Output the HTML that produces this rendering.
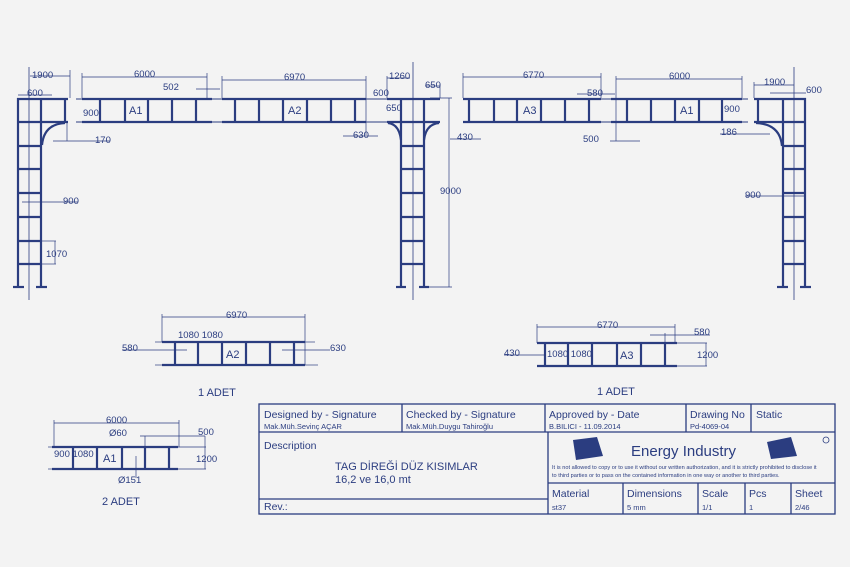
<!DOCTYPE html>
<html><head><meta charset="utf-8"><style>
html,body{margin:0;padding:0;background:#f3f3f3}
svg{display:block}
text{font-family:"Liberation Sans",sans-serif;fill:#2b3d80}
.m{font-family:"DejaVu Sans Mono","Liberation Mono",monospace}
</style></head><body>
<svg width="850" height="567" viewBox="0 0 850 567" xmlns="http://www.w3.org/2000/svg">
<rect width="850" height="567" fill="#f3f3f3"/>
<g stroke="#2b3d80" fill="none">
<!-- LEFT TOWER -->
<g stroke-width="2.2">
<line x1="18" y1="98" x2="18" y2="287"/><line x1="41" y1="98" x2="41" y2="287"/>
<line x1="17" y1="99" x2="68" y2="99"/><line x1="17" y1="122" x2="68" y2="122"/>
<line x1="65" y1="99" x2="65" y2="122"/>
<line x1="18" y1="146" x2="41" y2="146"/><line x1="18" y1="169" x2="41" y2="169"/><line x1="18" y1="193" x2="41" y2="193"/><line x1="18" y1="217" x2="41" y2="217"/><line x1="18" y1="241" x2="41" y2="241"/><line x1="18" y1="264" x2="41" y2="264"/>
<path d="M42 145 Q44 124 65 123"/>
<line x1="13" y1="287" x2="24" y2="287"/><line x1="36" y1="287" x2="47" y2="287"/>
</g>
<line x1="29" y1="67" x2="29" y2="300" stroke-width="0.8"/>
<!-- A1 top -->
<g stroke-width="2.2">
<line x1="82" y1="99" x2="212" y2="99"/><line x1="82" y1="122" x2="212" y2="122"/>
<line x1="100" y1="99" x2="100" y2="122"/><line x1="125" y1="99" x2="125" y2="122"/><line x1="148" y1="99" x2="148" y2="122"/><line x1="172" y1="99" x2="172" y2="122"/><line x1="196" y1="99" x2="196" y2="122"/>
<line x1="222" y1="99" x2="366" y2="99"/><line x1="222" y1="122" x2="366" y2="122"/>
<line x1="235" y1="99" x2="235" y2="122"/><line x1="259" y1="99" x2="259" y2="122"/><line x1="283" y1="99" x2="283" y2="122"/><line x1="307" y1="99" x2="307" y2="122"/><line x1="331" y1="99" x2="331" y2="122"/><line x1="355" y1="99" x2="355" y2="122"/>
</g>
<g stroke-width="1"><line x1="212" y1="99" x2="222" y2="99"/><line x1="212" y1="122" x2="222" y2="122"/><line x1="76" y1="99" x2="82" y2="99"/><line x1="76" y1="122" x2="82" y2="122"/><line x1="366" y1="99" x2="390" y2="99"/><line x1="366" y1="122" x2="390" y2="122"/></g>
<!-- MIDDLE TOWER -->
<g stroke-width="2.2">
<line x1="401" y1="98" x2="401" y2="287"/><line x1="424" y1="98" x2="424" y2="287"/>
<line x1="387" y1="99" x2="440" y2="99"/><line x1="387" y1="122" x2="440" y2="122"/>
<line x1="401" y1="146" x2="424" y2="146"/><line x1="401" y1="169" x2="424" y2="169"/><line x1="401" y1="193" x2="424" y2="193"/><line x1="401" y1="217" x2="424" y2="217"/><line x1="401" y1="241" x2="424" y2="241"/><line x1="401" y1="264" x2="424" y2="264"/>
<path d="M388 123 Q399 124 401 140"/><path d="M439 123 Q426 124 424 140"/>
<line x1="396" y1="287" x2="406" y2="287"/><line x1="419" y1="287" x2="429" y2="287"/>
</g>
<line x1="413" y1="62" x2="413" y2="300" stroke-width="0.8"/>
<!-- A3 / A1 right -->
<g stroke-width="2.2">
<line x1="463" y1="99" x2="601" y2="99"/><line x1="463" y1="122" x2="601" y2="122"/>
<line x1="469" y1="99" x2="469" y2="122"/><line x1="494" y1="99" x2="494" y2="122"/><line x1="517" y1="99" x2="517" y2="122"/><line x1="541" y1="99" x2="541" y2="122"/><line x1="565" y1="99" x2="565" y2="122"/><line x1="589" y1="99" x2="589" y2="122"/>
<line x1="611" y1="99" x2="742" y2="99"/><line x1="611" y1="122" x2="742" y2="122"/>
<line x1="627" y1="99" x2="627" y2="122"/><line x1="651" y1="99" x2="651" y2="122"/><line x1="675" y1="99" x2="675" y2="122"/><line x1="699" y1="99" x2="699" y2="122"/><line x1="722" y1="99" x2="722" y2="122"/>
</g>
<g stroke-width="1"><line x1="601" y1="99" x2="611" y2="99"/><line x1="601" y1="122" x2="611" y2="122"/><line x1="742" y1="99" x2="748" y2="99"/><line x1="742" y1="122" x2="748" y2="122"/></g>
<!-- RIGHT TOWER -->
<g stroke-width="2.2">
<line x1="783" y1="98" x2="783" y2="287"/><line x1="805" y1="98" x2="805" y2="287"/>
<line x1="754" y1="99" x2="806" y2="99"/><line x1="754" y1="122" x2="806" y2="122"/>
<line x1="758" y1="99" x2="758" y2="122"/>
<line x1="783" y1="146" x2="805" y2="146"/><line x1="783" y1="169" x2="805" y2="169"/><line x1="783" y1="193" x2="805" y2="193"/><line x1="783" y1="217" x2="805" y2="217"/><line x1="783" y1="241" x2="805" y2="241"/><line x1="783" y1="264" x2="805" y2="264"/>
<path d="M756 123 Q780 124 782 146"/>
<line x1="777" y1="287" x2="788" y2="287"/><line x1="800" y1="287" x2="811" y2="287"/>
</g>
<line x1="794" y1="67" x2="794" y2="300" stroke-width="0.8"/>
<!-- dimension lines top -->
<g stroke-width="0.7">
<line x1="30" y1="76" x2="70" y2="76"/><line x1="70" y1="70" x2="70" y2="98"/>
<line x1="18" y1="95" x2="52" y2="95"/>
<line x1="82" y1="77" x2="207" y2="77"/><line x1="82" y1="73" x2="82" y2="98"/><line x1="207" y1="73" x2="207" y2="98"/>
<line x1="196" y1="89" x2="220" y2="89"/>
<line x1="222" y1="80" x2="366" y2="80"/><line x1="222" y1="76" x2="222" y2="98"/><line x1="366" y1="76" x2="366" y2="135"/>
<line x1="343" y1="136" x2="378" y2="136"/>
<line x1="53" y1="141" x2="110" y2="141"/><line x1="67" y1="122" x2="67" y2="141"/>
<line x1="22" y1="202" x2="78" y2="202"/>
<line x1="42" y1="241" x2="56" y2="241"/><line x1="42" y1="264" x2="56" y2="264"/><line x1="55" y1="241" x2="55" y2="264"/>
<line x1="387" y1="76" x2="387" y2="98"/><line x1="387" y1="78" x2="410" y2="78"/>
<line x1="425" y1="86" x2="440" y2="86"/><line x1="440" y1="84" x2="440" y2="98"/>
<line x1="449" y1="98" x2="449" y2="287"/><line x1="430" y1="98" x2="452" y2="98"/><line x1="425" y1="287" x2="452" y2="287"/>
<line x1="450" y1="139" x2="481" y2="139"/>
<line x1="463" y1="77" x2="601" y2="77"/><line x1="463" y1="73" x2="463" y2="98"/><line x1="601" y1="73" x2="601" y2="98"/>
<line x1="577" y1="94" x2="615" y2="94"/>
<line x1="616" y1="79" x2="742" y2="79"/><line x1="616" y1="76" x2="616" y2="141"/><line x1="742" y1="76" x2="742" y2="98"/>
<line x1="610" y1="141" x2="640" y2="141"/>
<line x1="720" y1="134" x2="770" y2="134"/>
<line x1="754" y1="85" x2="794" y2="85"/><line x1="754" y1="82" x2="754" y2="98"/>
<line x1="770" y1="93" x2="806" y2="93"/>
<line x1="745" y1="196" x2="805" y2="196"/>
</g>
<!-- LOWER A2 -->
<g stroke-width="2.2">
<line x1="162" y1="342" x2="305" y2="342"/><line x1="162" y1="365" x2="305" y2="365"/>
<line x1="175" y1="342" x2="175" y2="365"/><line x1="198" y1="342" x2="198" y2="365"/><line x1="222" y1="342" x2="222" y2="365"/><line x1="246" y1="342" x2="246" y2="365"/><line x1="270" y1="342" x2="270" y2="365"/><line x1="294" y1="342" x2="294" y2="365"/>
</g>
<g stroke-width="0.7">
<line x1="162" y1="317" x2="305" y2="317"/><line x1="162" y1="314" x2="162" y2="342"/><line x1="305" y1="314" x2="305" y2="365"/>
<line x1="155" y1="342" x2="162" y2="342"/><line x1="155" y1="365" x2="162" y2="365"/><line x1="305" y1="342" x2="315" y2="342"/><line x1="305" y1="365" x2="318" y2="365"/>
<line x1="122" y1="350" x2="187" y2="350"/><line x1="282" y1="350" x2="330" y2="350"/>
</g>
<!-- LOWER A3 -->
<g stroke-width="2.2">
<line x1="537" y1="343" x2="677" y2="343"/><line x1="537" y1="366" x2="677" y2="366"/>
<line x1="545" y1="343" x2="545" y2="366"/><line x1="568" y1="343" x2="568" y2="366"/><line x1="592" y1="343" x2="592" y2="366"/><line x1="617" y1="343" x2="617" y2="366"/><line x1="641" y1="343" x2="641" y2="366"/><line x1="665" y1="343" x2="665" y2="366"/>
</g>
<g stroke-width="0.7">
<line x1="537" y1="327" x2="675" y2="327"/><line x1="537" y1="324" x2="537" y2="343"/><line x1="675" y1="324" x2="675" y2="343"/>
<line x1="650" y1="335" x2="710" y2="335"/><line x1="665" y1="333" x2="665" y2="343"/>
<line x1="677" y1="343" x2="707" y2="343"/><line x1="677" y1="366" x2="707" y2="366"/><line x1="706" y1="343" x2="706" y2="366"/>
<line x1="504" y1="355" x2="545" y2="355"/>
</g>
<!-- LOWER A1 -->
<g stroke-width="2.2">
<line x1="52" y1="447" x2="178" y2="447"/><line x1="52" y1="469" x2="178" y2="469"/>
<line x1="73" y1="447" x2="73" y2="469"/><line x1="97" y1="447" x2="97" y2="469"/><line x1="122" y1="447" x2="122" y2="469"/><line x1="145" y1="447" x2="145" y2="469"/><line x1="169" y1="447" x2="169" y2="469"/>
</g>
<g stroke-width="0.7">
<line x1="48" y1="447" x2="52" y2="447"/><line x1="48" y1="469" x2="52" y2="469"/><line x1="178" y1="447" x2="206" y2="447"/><line x1="178" y1="469" x2="206" y2="469"/>
<line x1="54" y1="423" x2="179" y2="423"/><line x1="54" y1="420" x2="54" y2="447"/><line x1="179" y1="420" x2="179" y2="447"/>
<line x1="140" y1="436" x2="205" y2="436"/><line x1="145" y1="436" x2="145" y2="447"/><line x1="205" y1="436" x2="205" y2="469"/>
<line x1="136" y1="456" x2="136" y2="478"/>
</g>
<!-- TITLE BLOCK -->
<g stroke-width="1.3">
<rect x="259" y="404" width="576" height="110"/>
<line x1="259" y1="432" x2="835" y2="432"/>
<line x1="402" y1="404" x2="402" y2="432"/><line x1="545" y1="404" x2="545" y2="432"/><line x1="686" y1="404" x2="686" y2="432"/><line x1="751" y1="404" x2="751" y2="432"/>
<line x1="548" y1="432" x2="548" y2="514"/>
<line x1="259" y1="499" x2="548" y2="499"/>
<line x1="548" y1="483" x2="835" y2="483"/>
<line x1="623" y1="483" x2="623" y2="514"/><line x1="698" y1="483" x2="698" y2="514"/><line x1="745" y1="483" x2="745" y2="514"/><line x1="791" y1="483" x2="791" y2="514"/>
<circle cx="826" cy="440" r="3" stroke-width="0.8"/>
</g>
</g>
<polygon points="573,440 597,437 603,456 576,460" fill="#2b3d80"/>
<polygon points="767,442 791,437 797,456 771,459" fill="#2b3d80"/>
<!-- TEXTS -->
<g font-size="9.5">
<text x="32" y="78">1900</text><text x="27" y="96">600</text><text x="83" y="116">900</text><text x="95" y="143">170</text>
<text x="63" y="204">900</text><text x="46" y="257">1070</text>
<text x="134" y="77">6000</text><text x="163" y="90">502</text><text x="284" y="80">6970</text><text x="353" y="138">630</text>
<text x="373" y="96">600</text><text x="386" y="111">650</text><text x="389" y="79">1260</text><text x="425" y="88">650</text>
<text x="440" y="194">9000</text><text x="457" y="140">430</text>
<text x="523" y="78">6770</text><text x="587" y="96">580</text><text x="583" y="142">500</text>
<text x="669" y="79">6000</text><text x="724" y="112">900</text><text x="721" y="135">186</text>
<text x="764" y="85">1900</text><text x="806" y="93">600</text><text x="745" y="198">900</text>
<text x="226" y="318">6970</text><text x="178" y="338">1080 1080</text><text x="122" y="351">580</text><text x="330" y="351">630</text>
<text x="597" y="328">6770</text><text x="694" y="335">580</text><text x="697" y="358">1200</text><text x="504" y="356">430</text><text x="547" y="357">1080 1080</text>
<text x="106" y="423">6000</text><text x="109" y="436">Ø60</text><text x="198" y="435">500</text><text x="196" y="462">1200</text><text x="118" y="483">Ø151</text><text x="54" y="457">900 1080</text>
</g>
<g font-size="11"><text x="129" y="114">A1</text><text x="288" y="114">A2</text><text x="523" y="114">A3</text><text x="680" y="114">A1</text>
<text x="226" y="358">A2</text><text x="620" y="359">A3</text><text x="103" y="462">A1</text></g>
<g font-size="11"><text x="198" y="396">1 ADET</text><text x="597" y="395">1 ADET</text><text x="102" y="505">2 ADET</text></g>
<g class="m" font-size="10.5">
<text x="264" y="418">Designed by - Signature</text><text x="406" y="418">Checked by - Signature</text><text x="549" y="418">Approved by - Date</text><text x="690" y="418">Drawing No</text><text x="756" y="418">Static</text>
<text x="264" y="449">Description</text><text x="264" y="510">Rev.:</text>
<text x="552" y="497">Material</text><text x="627" y="497">Dimensions</text><text x="702" y="497">Scale</text><text x="749" y="497">Pcs</text><text x="795" y="497">Sheet</text>
</g>
<g class="m" font-size="7.5">
<text x="264" y="429">Mak.Müh.Sevinç AÇAR</text><text x="406" y="429">Mak.Müh.Duygu Tahiroğlu</text><text x="549" y="429">B.BILICI - 11.09.2014</text><text x="690" y="429">Pd-4069-04</text>
<text x="552" y="510">st37</text><text x="627" y="510">5 mm</text><text x="702" y="510">1/1</text><text x="749" y="510">1</text><text x="795" y="510">2/46</text>
</g>
<text x="335" y="470" font-size="11">TAG DİREĞİ DÜZ KISIMLAR</text>
<text x="335" y="483" font-size="11">16,2 ve 16,0 mt</text>
<text x="631" y="456" font-size="15">Energy Industry</text>
<text x="552" y="469" font-size="5.6">It is not allowed to copy or to use it without our written authorization, and it is strictly prohibited to disclose it</text>
<text x="552" y="477" font-size="5.6">to third parties or to pass on the contained information in one way or another to third parties.</text>
</svg>
</body></html>
